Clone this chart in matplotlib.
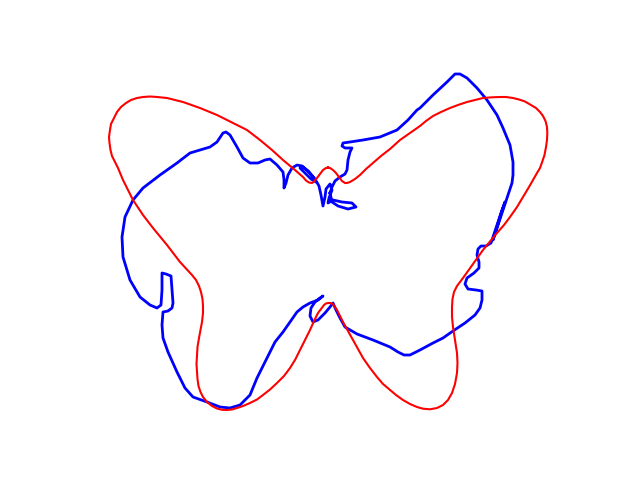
import matplotlib
matplotlib.use("Agg")
import matplotlib.pyplot as plt

# Red (smooth) butterfly curve (pixel units)
red_pts = [
    (328, 167.5), (326, 168), (323, 170), (320, 174), (317, 178), (314, 181.5), (312, 183), (309, 182.5),
    (306, 180.5), (303, 177), (295, 170), (283, 160), (272, 150), (260, 140), (247, 130), (233, 123),
    (217, 115), (200, 108), (183, 102), (167, 98), (157, 97), (150, 96.5), (143, 97), (137, 98),
    (131, 100), (126, 103), (121, 107), (117, 112), (114, 118), (111, 124), (110, 130), (109, 137),
    (109.5, 143), (110.5, 150), (112, 156), (115, 162), (118, 168), (123, 180), (128, 190), (133, 200),
    (143, 215), (153, 228), (167, 245), (180, 262), (192, 275), (196, 280), (199, 286), (201, 292),
    (202.5, 299), (203, 306), (203, 313), (202, 322), (199, 338), (197.5, 347), (197, 355), (196.5, 364),
    (197, 372), (197.5, 379), (198.5, 386), (200.5, 392), (203, 397), (207, 402), (212, 406), (217, 408.5),
    (222, 409.8), (227, 410), (232, 409.5), (237, 408), (243, 406), (250, 403), (257, 399.5), (263, 395),
    (270, 389.5), (277, 383), (284, 376), (290, 368), (295, 360), (300, 350), (305, 340), (310, 330),
    (314, 321), (318, 313), (321, 309), (324, 305), (326, 303.5), (328, 303), (330, 303), (332, 303.5),
    (334, 305.5), (337, 310), (340, 316), (343, 322), (348, 331), (353, 340), (358, 349), (363, 358),
    (370, 368), (377, 377), (383, 384), (390, 390), (396, 395), (403, 400), (410, 404), (417, 407),
    (423, 408.7), (430, 409.3), (437, 408), (443, 405), (448, 400), (452, 393), (455, 384), (457, 373),
    (457.5, 363), (457, 353), (455, 340), (453, 327), (452, 317), (452, 307), (452.5, 299), (454, 292),
    (457, 286), (463, 278), (473, 264), (483, 250), (490, 241.5), (497, 233), (504, 225), (510, 217),
    (517, 207), (523, 197), (529, 187), (533, 180), (537, 173), (540, 168), (542.5, 161), (544.5, 155),
    (546, 147), (547, 140), (547.3, 133), (547, 127), (545.5, 121), (543, 116), (540, 112), (536, 108),
    (531, 105), (525, 101.5), (519, 99.5), (513, 98), (506, 97), (500, 97), (492, 97.3), (483, 98),
    (475, 100), (467, 102), (458, 105), (450, 108), (441, 112), (433, 116), (426, 121), (420, 126),
    (410, 133), (400, 140), (390, 149), (381, 156), (373, 163), (366, 169), (360, 175), (355, 179),
    (350, 182), (347, 183), (345, 183), (342, 181), (339, 177), (336, 173), (333, 170), (330, 168),
    (328, 167.5),
]
red_x = [p[0] for p in red_pts]
red_y = [p[1] for p in red_pts]

# Blue (noisy) curve (pixel units)
blue_x = [330, 332, 335, 340, 345, 347, 348, 350, 352, 345, 342, 343, 350, 363, 380, 397, 408, 417, 420, 433,
          447, 455, 460, 467, 477, 487, 497, 503, 510, 513, 513, 512, 508, 504, 500, 496, 493, 497, 501, 505,
          502, 498, 494, 491, 486, 481, 478, 477, 479, 479, 474, 467, 465, 468, 476, 482, 482, 480, 475, 465,
          453, 443, 433, 420, 410, 404, 398, 390, 373, 357, 345, 340, 336, 333, 330, 325, 318, 313, 310, 311,
          315, 320, 323, 318, 310, 303, 297, 290, 283, 275, 267, 257, 250, 240, 230, 220, 207, 193, 185, 177,
          168, 163, 162, 163, 168, 172, 173, 172, 171, 166, 162, 162, 161, 157, 150, 140, 130, 123, 122, 125,
          133, 143, 160, 177, 190, 200, 210, 217, 223, 226, 230, 237, 243, 250, 258, 265, 270, 277, 283, 284,
          284, 286, 288, 292, 297, 302, 308, 313, 316, 311, 305, 300, 303, 309, 315, 319, 321, 323, 325, 326,
          330, 332, 329, 328, 333, 342, 352, 356, 348, 338, 332, 330]
blue_y = [193, 187, 181, 177, 174, 170, 160, 152, 148, 148, 146, 143, 142, 140, 137, 130, 120, 110, 108, 95,
          82, 74, 74, 78, 88, 100, 115, 128, 145, 162, 175, 183, 195, 207, 219, 231, 240, 227, 214, 202,
          210, 222, 234, 243, 246, 246, 249, 255, 262, 268, 273, 278, 284, 289, 290, 291, 300, 308, 315, 323,
          331, 338, 343, 350, 355, 355, 352, 347, 340, 334, 327, 318, 310, 303, 307, 313, 320, 322, 316, 308,
          302, 298, 296, 300, 303, 307, 312, 322, 332, 342, 358, 378, 395, 405, 408, 407, 402, 397, 388, 372,
          352, 338, 325, 312, 311, 308, 303, 290, 276, 274, 273, 290, 305, 308, 305, 297, 280, 257, 237, 217,
          200, 188, 175, 163, 153, 150, 147, 142, 133, 132, 135, 147, 158, 163, 163, 160, 159, 165, 172, 180,
          188, 183, 175, 168, 165, 166, 171, 177, 182, 179, 173, 168, 167, 172, 179, 186, 195, 206, 197, 189,
          184, 190, 198, 203, 200, 202, 203, 207, 209, 206, 202, 193]

fig = plt.figure(figsize=(6.4, 4.8), dpi=100)
ax = fig.add_subplot(111)
ax.plot(blue_x, blue_y, color="blue", linewidth=2.0)
ax.plot(red_x, red_y, color="red", linewidth=1.5)
ax.set_xlim(80, 576)
ax.set_ylim(427.2, 57.6)
ax.axis("off")
fig.savefig("out.png", dpi=100)
